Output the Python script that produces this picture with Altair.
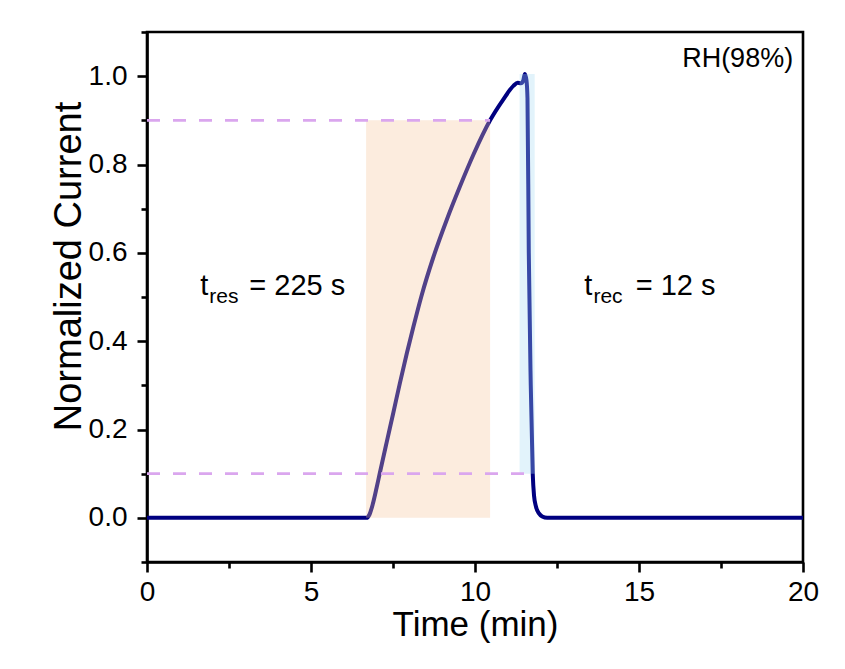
import altair as alt
import pandas as pd

# ---- data ----
time_min = [0.0, 6.69, 6.78, 6.88, 7.00, 7.10, 7.31, 7.51, 7.71, 7.92, 8.12,
            8.37, 8.73, 9.14, 9.54, 9.95, 10.46, 10.86, 11.17, 11.30, 11.40,
            11.47, 11.52, 11.57, 11.60, 11.64, 11.70, 11.76, 11.80, 11.86, 11.95,
            12.05, 12.20, 20.0]
current = [0.0, 0.0, 0.007, 0.030, 0.068, 0.102, 0.172, 0.238, 0.305, 0.372, 0.432,
           0.503, 0.590, 0.675, 0.750, 0.822, 0.900, 0.947, 0.978, 0.985, 0.984,
           0.990, 1.005, 0.990, 0.950, 0.600, 0.300, 0.100, 0.050, 0.025, 0.010,
           0.003, 0.0, 0.0]

band_names = ["response", "recovery"]
band_start = [6.68, 11.36]
band_end = [10.46, 11.82]
band_low = [0.0, 0.1]
band_high = [0.9, 1.005]
band_colors = ["#F7C49A", "#A6DCF2"]

level_values = [0.9, 0.1]
level_end = [10.46, 11.82]

x_ticks = [0, 2.5, 5, 7.5, 10, 12.5, 15, 17.5, 20]
y_ticks = [-0.1, 0.0, 0.1, 0.2, 0.3, 0.4, 0.5, 0.6, 0.7, 0.8, 0.9, 1.0, 1.1]

FONT = "Liberation Sans"

curve_df = pd.DataFrame({"t": time_min, "c": current})
band_df = pd.DataFrame({"name": band_names, "x": band_start, "x2": band_end,
                        "y": band_low, "y2": band_high, "color": band_colors})
level_df = pd.DataFrame({"x": [0.0, 0.0], "x2": level_end, "y": level_values})

xscale = alt.Scale(domain=[0, 20], nice=False, zero=False)
yscale = alt.Scale(domain=[-0.1, 1.1], nice=False, zero=False)

x_axis = alt.Axis(
    values=x_ticks,
    labelExpr="datum.value % 5 === 0 ? format(datum.value, 'd') : ''",
    tickSize={"condition": {"test": "datum.value % 5 === 0", "value": 10}, "value": 6},
    labelFlush=False, labelOverlap=False, grid=False,
    title="Time (min)", titleBaseline="alphabetic", titleY=73, titleFontSize=35,
    labelPadding=6,
)
y_axis = alt.Axis(
    values=y_ticks,
    labelExpr="abs(round(datum.value*10)) % 2 === 0 ? format(datum.value, '.1f') : ''",
    tickSize={"condition": {"test": "abs(round(datum.value*10)) % 2 === 0", "value": 10}, "value": 6},
    labelOverlap=False, grid=False, labelPadding=10,
    title="Normalized Current", titleAngle=270, titleBaseline="alphabetic",
    titleAlign="center", titleX=-67, titleY=234, titleFontSize=38,
)

line = alt.Chart(curve_df).mark_line(color="#000080", strokeWidth=4,
                                     interpolate="monotone").encode(
    x=alt.X("t:Q", scale=xscale, axis=x_axis),
    y=alt.Y("c:Q", scale=yscale, axis=y_axis),
)

bands = alt.Chart(band_df).mark_rect(opacity=0.33).encode(
    x="x:Q", x2="x2:Q", y="y:Q", y2="y2:Q",
    color=alt.Color("color:N", scale=None),
)

levels = alt.Chart(level_df).mark_rule(color="#DAA6EE", strokeWidth=2.7,
                                       strokeDash=[13, 13]).encode(
    x="x:Q", x2="x2:Q", y="y:Q",
)

def label(x, y, text, size, align="left"):
    return alt.Chart(pd.DataFrame({"x": [x], "y": [y], "s": [text]})).mark_text(
        font=FONT, fontSize=size, color="black", align=align, baseline="alphabetic"
    ).encode(x="x:Q", y="y:Q", text="s:N")

texts = [
    label(19.70, 1.020, "RH(98%)", 27, "right"),
    label(1.62, 0.505, "t", 29),
    label(1.90, 0.486, "res", 21),
    label(3.12, 0.505, "= 225 s", 29),
    label(13.33, 0.505, "t", 29),
    label(13.61, 0.486, "rec", 21),
    label(14.90, 0.505, "= 12 s", 29),
]

chart = alt.layer(line, bands, levels, *texts).properties(
    width=656, height=530,
    autosize=alt.AutoSizeParams(type="none"),
    padding={"left": 147, "top": 32, "right": 42, "bottom": 107},
    background="white",
).configure_view(
    stroke="black", strokeWidth=2.6,
).configure_axis(
    domainColor="black", domainWidth=2.6, tickColor="black", tickWidth=2.6,
    labelFont=FONT, labelFontSize=28, labelColor="black",
    titleFont=FONT, titleFontWeight="normal", titleColor="black",
)

chart.save("out.html", embed_options={"renderer": "svg", "actions": False})
